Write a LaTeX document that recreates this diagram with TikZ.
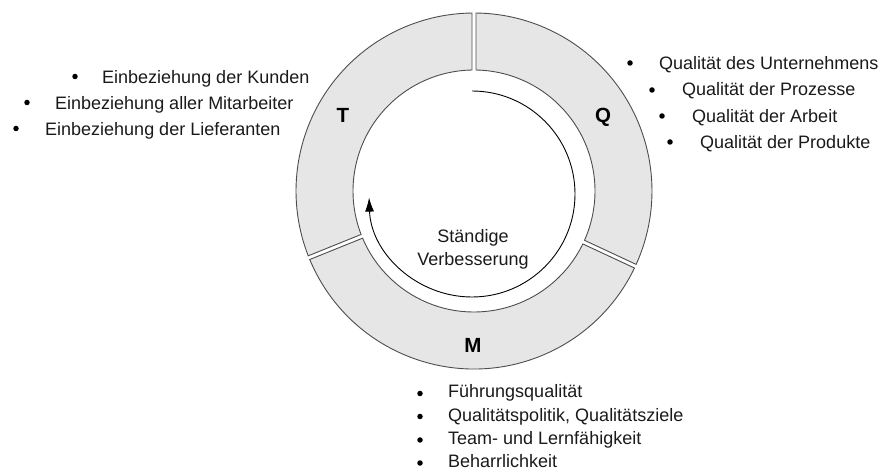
\documentclass[tikz,border=0pt]{standalone}
\usepackage{fontspec}
\setmainfont{Liberation Sans}
\usetikzlibrary{calc,arrows.meta}

\definecolor{ringgray}{HTML}{E6E6E6}
\definecolor{ringline}{HTML}{4D4D4D}
\definecolor{txt}{HTML}{1A1A1A}

% Ring geometry (pt): inner radius, outer radius, half width of the gaps
\def\rin{121}
\def\rout{178}
\def\gap{2}

% One segment of the ring between two angles, with parallel-sided gaps
\newcommand\ringsegment[2]{%
  \pgfmathsetmacro\aOutA{#1+asin(\gap/\rout)}%
  \pgfmathsetmacro\aOutB{#2-asin(\gap/\rout)}%
  \pgfmathsetmacro\aInA{#1+asin(\gap/\rin)}%
  \pgfmathsetmacro\aInB{#2-asin(\gap/\rin)}%
  \draw[segment] ($(C)+(\aOutA:\rout)$)
      arc[start angle=\aOutA, end angle=\aOutB, radius=\rout]
      -- ($(C)+(\aInB:\rin)$)
      arc[start angle=\aInB, end angle=\aInA, radius=\rin] -- cycle;
}

\begin{document}
\begin{tikzpicture}[x=1pt, y=1pt,
  segment/.style={fill=ringgray, draw=ringline, line width=0.9pt},
  item/.style={anchor=base west, inner sep=0pt, text=txt,
               font=\fontsize{18}{22}\selectfont},
  midtext/.style={anchor=base, inner sep=0pt, text=txt,
               font=\fontsize{18}{22}\selectfont},
  dot/.style={circle, fill=black, inner sep=0pt, minimum size=5.5pt},
  letter/.style={anchor=base, inner sep=0pt, text=black,
               font=\fontsize{20.5}{24}\selectfont\bfseries},
]
\useasboundingbox (0,0) rectangle (883,471);

\coordinate (C) at (474,280);
\coordinate (A) at (472,277);

% the three segments Q, T, M
\ringsegment{-25}{90}
\ringsegment{90}{202}
\ringsegment{202}{335}

% continuous improvement arrow
\coordinate (arrStart) at ($(A)+(90:103)$);
\draw[line width=0.9pt, -{Latex[length=14pt,width=9pt]}]
  (arrStart) arc[start angle=90, end angle=-178, radius=103];

% segment letters
\node[letter] (T) at (343,348) {T};
\node[letter] (Q) at (603,348) {Q};
\node[letter] (M) at (473,118) {M};

% centre text
\node[midtext] (st1) at (473,228) {Ständige};
\node[midtext] (st2) at (473,205) {Verbesserung};

% T list
\node[dot] (tb1) at (75,394.5) {};
\node[dot] (tb2) at (27,368.5) {};
\node[dot] (tb3) at (16,342.5) {};
\node[item] (t1) at (102,387.5) {Einbeziehung der Kunden};
\node[item] (t2) at (55,361.5) {Einbeziehung aller Mitarbeiter};
\node[item] (t3) at (45,335.5) {Einbeziehung der Lieferanten};

% Q list
\node[dot] (qb1) at (630,408) {};
\node[dot] (qb2) at (652,381) {};
\node[dot] (qb3) at (662,355) {};
\node[dot] (qb4) at (670,329) {};
\node[item] (q1) at (659,401.5) {Qualität des Unternehmens};
\node[item] (q2) at (682,375) {Qualität der Prozesse};
\node[item] (q3) at (692,348.5) {Qualität der Arbeit};
\node[item] (q4) at (700,322) {Qualität der Produkte};

% M list
\node[dot] (mb1) at (420,77.5) {};
\node[dot] (mb2) at (420,54.5) {};
\node[dot] (mb3) at (420,31) {};
\node[dot] (mb4) at (420,8) {};
\node[item] (m1) at (448,73) {Führungsqualität};
\node[item] (m2) at (448,49.5) {Qualitätspolitik, Qualitätsziele};
\node[item] (m3) at (448,26.5) {Team- und Lernfähigkeit};
\node[item] (m4) at (448,4) {Beharrlichkeit};
\end{tikzpicture}
\end{document}
